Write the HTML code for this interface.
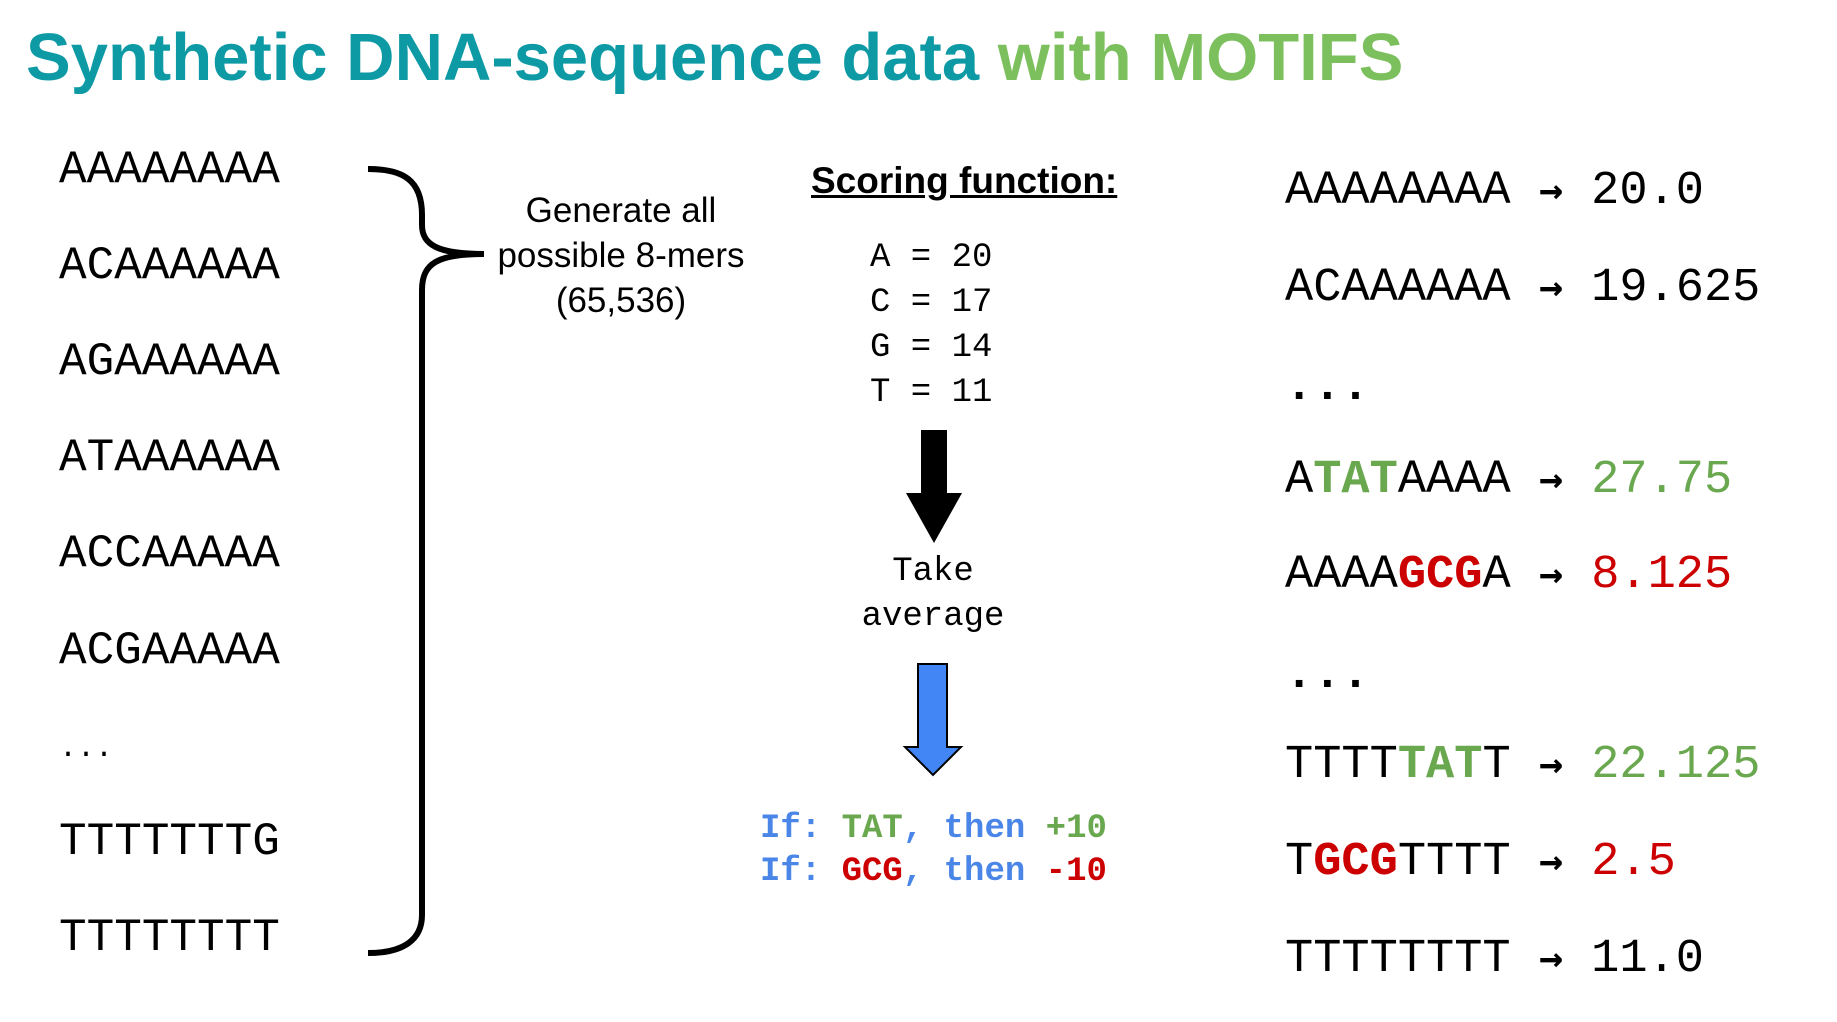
<!DOCTYPE html>
<html><head><meta charset="utf-8"><style>
body{margin:0;width:1837px;height:1022px;background:#fff;position:relative;overflow:hidden}
.a{position:absolute;white-space:pre;line-height:1}
.m{font-family:"Liberation Mono","DejaVu Sans Mono",monospace}
.s{font-family:"Liberation Sans",Arial,sans-serif}
.g{color:#6aa84f}.r{color:#cc0000}.b{color:#4a86e8}
.seq{font-size:46px;left:59px}
.res{font-size:47px;left:1285px}
.ar{font-family:"DejaVu Sans Mono",monospace;font-weight:bold;font-size:40px}
</style></head><body>
<div class="a s" style="left:26px;top:24px;font-size:67px;font-weight:bold;color:#0d9aa5">Synthetic DNA-sequence data <span style="color:#7cc05e">with MOTIFS</span></div>

<div class="a m seq" style="top:147px">AAAAAAAA</div>
<div class="a m seq" style="top:243px">ACAAAAAA</div>
<div class="a m seq" style="top:339px">AGAAAAAA</div>
<div class="a m seq" style="top:435px">ATAAAAAA</div>
<div class="a m seq" style="top:531px">ACCAAAAA</div>
<div class="a m seq" style="top:628px">ACGAAAAA</div>
<div class="a m" style="left:59px;top:734px;font-size:30px">...</div>
<div class="a m seq" style="top:819px">TTTTTTTG</div>
<div class="a m seq" style="top:915px">TTTTTTTT</div>

<svg class="a" style="left:0;top:0" width="1837" height="1022">
<path d="M368 169 C403 169 422 180 422 215 L422 225 C422 245 438 254 484 254 C438 254 422 263 422 290 L422 915 C422 940 403 953 368 953" fill="none" stroke="#000" stroke-width="6"/>
<polygon points="921,430 947,430 947,493 962,493 934,543 906,493 921,493" fill="#000"/>
<polygon points="918,664 947,664 947,747 961,747 933,775 905,747 918,747" fill="#4285f4" stroke="#000" stroke-width="2"/>
</svg>

<div class="a s" style="left:471px;top:188px;width:300px;text-align:center;font-size:35px;line-height:45px">Generate all<br>possible 8-mers<br>(65,536)</div>

<div class="a s" style="left:811px;top:162px;font-size:37px;font-weight:bold;text-decoration:underline">Scoring function:</div>
<div class="a m" style="left:870px;top:236px;font-size:34px;line-height:45px">A = 20<br>C = 17<br>G = 14<br>T = 11</div>
<div class="a m" style="left:783px;top:550px;width:300px;text-align:center;font-size:34px;line-height:45px">Take<br>average</div>
<div class="a m b" style="left:760px;top:808px;font-size:34px;line-height:43px;font-weight:bold">If: <span class="g">TAT</span>, then <span class="g">+10</span><br>If: <span class="r">GCG</span>, then <span class="r">-10</span></div>

<div class="a m res" style="top:168px">AAAAAAAA <span class="ar">→</span> 20.0</div>
<div class="a m res" style="top:265px">ACAAAAAA <span class="ar">→</span> 19.625</div>
<div class="a m res" style="top:364px;font-weight:bold">...</div>
<div class="a m res" style="top:457px">A<b class="g">TAT</b>AAAA <span class="ar">→</span> <span class="g">27.75</span></div>
<div class="a m res" style="top:552px">AAAA<b class="r">GCG</b>A <span class="ar">→</span> <span class="r">8.125</span></div>
<div class="a m res" style="top:652px;font-weight:bold">...</div>
<div class="a m res" style="top:742px">TTTT<b class="g">TAT</b>T <span class="ar">→</span> <span class="g">22.125</span></div>
<div class="a m res" style="top:839px">T<b class="r">GCG</b>TTTT <span class="ar">→</span> <span class="r">2.5</span></div>
<div class="a m res" style="top:936px">TTTTTTTT <span class="ar">→</span> 11.0</div>
</body></html>
